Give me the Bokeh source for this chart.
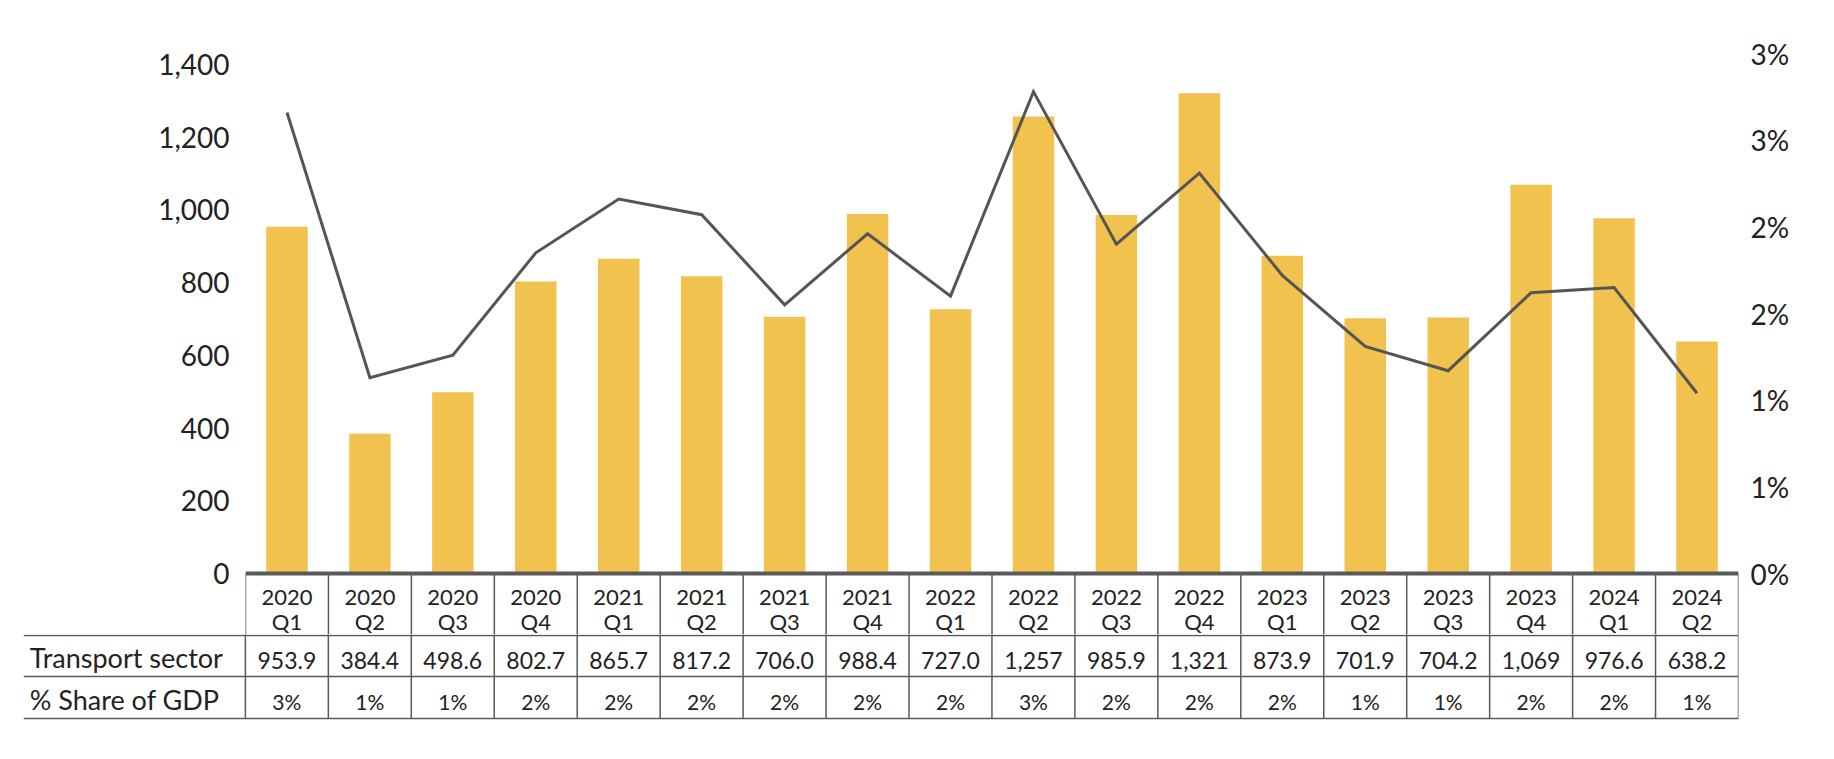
from bokeh.plotting import figure
from bokeh.models import (Range1d, LinearAxis, FixedTicker,
                          NumeralTickFormatter, CustomJSTickFormatter, Span)
from bokeh.core.properties import value
from bokeh.embed import file_html
from bokeh.resources import INLINE

years = ["2020", "2020", "2020", "2020", "2021", "2021", "2021", "2021",
         "2022", "2022", "2022", "2022", "2023", "2023", "2023", "2023",
         "2024", "2024"]
quarters = ["Q1", "Q2", "Q3", "Q4", "Q1", "Q2", "Q3", "Q4",
            "Q1", "Q2", "Q3", "Q4", "Q1", "Q2", "Q3", "Q4",
            "Q1", "Q2"]
transport = [953.9, 384.4, 498.6, 802.7, 865.7, 817.2, 706.0, 988.4,
             727.0, 1257, 985.9, 1321, 873.9, 701.9, 704.2, 1069,
             976.6, 638.2]
share_gdp = [2.66, 1.13, 1.26, 1.85, 2.16, 2.07, 1.55, 1.96,
             1.60, 2.78, 1.90, 2.31, 1.72, 1.31, 1.17, 1.62,
             1.65, 1.04]
left_ticks = [0, 200, 400, 600, 800, 1000, 1200, 1400]
right_ticks = [0, 0.5, 1.0, 1.5, 2.0, 2.5, 3.0]
row_labels = ["Transport sector", "% Share of GDP"]

n = len(years)
xpos = [i + 0.5 for i in range(n)]
val_labels = [f"{v:,.0f}" if v >= 1000 else f"{v:.1f}" for v in transport]
pct_labels = [f"{int(s + 0.5)}%" for s in share_gdp]

FONT = value("Lato")
TXT = "#222222"
BAR = "#F2C24F"
LINE = "#555555"
GRID = "#5a5a5a"
W = 1826

# ---------- chart (with table header row) ----------
PXU = 520 / 1430.0          # pixels per unit on the left scale
FRAME_H = 581
y0 = 1430 - FRAME_H / PXU
PXP = 520 / 3.0             # pixels per percent on the right scale
p0 = 3.0 - FRAME_H / PXP

p = figure(width=W, height=FRAME_H + 53, x_range=Range1d(0, n),
           y_range=Range1d(y0, 1430), output_backend="svg",
           toolbar_location=None, min_border_left=245, min_border_right=88,
           min_border_top=53, min_border_bottom=0)
p.extra_y_ranges = {"pct": Range1d(p0, 3.0)}
p.xaxis.visible = False
p.xgrid.visible = False
p.ygrid.visible = False
p.outline_line_color = None
p.background_fill_color = "white"
p.border_fill_color = "white"

ya = p.yaxis[0]
ya.ticker = FixedTicker(ticks=left_ticks)
ya.formatter = NumeralTickFormatter(format="0,0")
ya.axis_line_color = None
ya.major_tick_line_color = None
ya.minor_tick_line_color = None
ya.major_tick_out = 0
ya.major_tick_in = 0
ya.major_label_standoff = 16
ya.major_label_text_font = "Lato"
ya.major_label_text_font_size = "28px"
ya.major_label_text_color = TXT

ra = LinearAxis(y_range_name="pct", ticker=FixedTicker(ticks=right_ticks),
                formatter=CustomJSTickFormatter(code="return Math.round(tick) + '%';"))
ra.axis_line_color = None
ra.major_tick_line_color = None
ra.minor_tick_line_color = None
ra.major_tick_out = 0
ra.major_tick_in = 0
ra.major_label_standoff = 12
ra.major_label_text_font = "Lato"
ra.major_label_text_font_size = "28px"
ra.major_label_text_color = TXT
p.add_layout(ra, "right")

p.vbar(x=xpos, top=transport, width=0.5, bottom=0, fill_color=BAR,
       line_color=None)
p.line(x=xpos, y=share_gdp, y_range_name="pct", line_color=LINE,
       line_width=3, line_join="miter")

# header row of the table (below zero)
vx = list(range(n + 1))
p.segment(x0=vx, x1=vx, y0=[0] * len(vx), y1=[y0 - 10] * len(vx),
          line_color=GRID, line_width=1.5)
y_year = (573 - 597) / PXU
y_q = (573 - 621) / PXU
p.text(x=xpos, y=[y_year] * n, text=years, text_font=FONT,
       text_font_size="22px", text_color=TXT, text_align="center",
       text_baseline="middle")
p.text(x=xpos, y=[y_q] * n, text=quarters, text_font=FONT,
       text_font_size="22px", text_color=TXT, text_align="center",
       text_baseline="middle")
p.add_layout(Span(location=0, dimension="width", line_color=GRID,
                  line_width=4))

# ---------- table body ----------
LEFT = -2.675
t = figure(width=W, height=120, x_range=Range1d(LEFT, n),
           y_range=Range1d(754, 634), output_backend="svg",
           toolbar_location=None, min_border_left=23, min_border_right=88,
           min_border_top=0, min_border_bottom=0)
t.axis.visible = False
t.grid.visible = False
t.outline_line_color = None
t.background_fill_color = "white"
t.border_fill_color = "white"

hy = [635, 676, 718]
t.segment(x0=[LEFT] * 3, x1=[n] * 3, y0=hy, y1=hy, line_color=GRID,
          line_width=1.5)
t.segment(x0=vx, x1=vx, y0=[630] * len(vx), y1=[718] * len(vx),
          line_color=GRID, line_width=1.5)
t.text(x=xpos, y=[660] * n, text=val_labels, text_font=FONT,
       text_font_size="23px", text_color=TXT, text_align="center",
       text_baseline="middle")
t.text(x=xpos, y=[701] * n, text=pct_labels, text_font=FONT,
       text_font_size="21px", text_color=TXT, text_align="center",
       text_baseline="middle")
t.text(x=[LEFT + 0.075] * 2, y=[657, 699], text=row_labels, text_font=FONT,
       text_font_size="27px", text_color=TXT, text_align="left",
       text_baseline="middle")

open("out.html", "w").write(file_html([p, t], INLINE))
